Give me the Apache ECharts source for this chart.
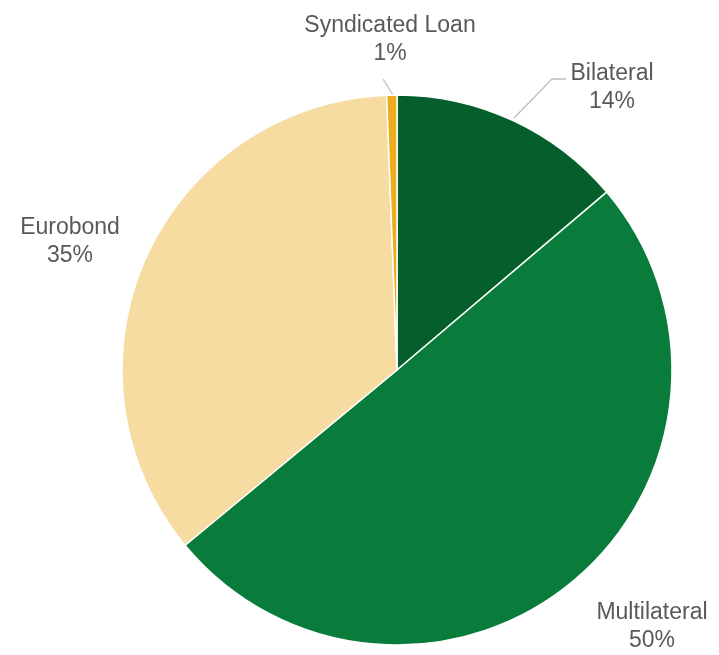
<!DOCTYPE html>
<html>
<head>
<meta charset="utf-8">
<script src="https://cdn.jsdelivr.net/npm/echarts@6/dist/echarts.min.js"></script>
<style>html,body{margin:0;padding:0;background:#fff}#c{width:719px;height:655px}</style>
</head>
<body>
<div id="c"></div>
<script>
var categories = ['Bilateral', 'Multilateral', 'Eurobond', 'Syndicated Loan'];
var values = [13.8, 50.2, 35.4, 0.6];
var colors = ['#045F2C', '#097B3A', '#F7DCA2', '#EDAC1D'];

var labelPos = [
  {x: 612, y: 88, line: [[514, 118], [552, 79], [566, 79]]},
  {x: 652, y: 627, line: null},
  {x: 70, y: 242, line: null},
  {x: 390, y: 40, line: [[393, 95], [383, 79], [383, 79]]}
];

var chart = echarts.init(document.getElementById('c'), null, {renderer: 'canvas'});
chart.setOption({
  animation: false,
  series: [{
    type: 'pie',
    center: [397, 370],
    radius: [0, 275],
    startAngle: 90,
    clockwise: true,
    avoidLabelOverlap: false,
    emphasis: {disabled: true},
    itemStyle: {borderColor: '#ffffff', borderWidth: 1.5},
    label: {
      show: true,
      position: 'outside',
      fontFamily: 'Liberation Sans, Arial, sans-serif',
      fontSize: 23,
      lineHeight: 28,
      color: '#595959',
      align: 'center',
      formatter: function (p) { return p.name + '\n' + Math.round(p.percent) + '%'; }
    },
    labelLine: {show: true, lineStyle: {color: '#BFBFBF', width: 1.3}},
    labelLayout: function (p) {
      var lp = labelPos[p.dataIndex];
      var r = {x: lp.x, y: lp.y, align: 'center', verticalAlign: 'middle'};
      if (lp.line) { r.labelLinePoints = lp.line; }
      else { r.labelLinePoints = [[0,0],[0,0],[0,0]]; }
      return r;
    },
    data: categories.map(function (c, i) {
      return {name: c, value: values[i], itemStyle: {color: colors[i]},
        labelLine: {show: !!labelPos[i].line}};
    })
  }]
});
</script>
</body>
</html>
